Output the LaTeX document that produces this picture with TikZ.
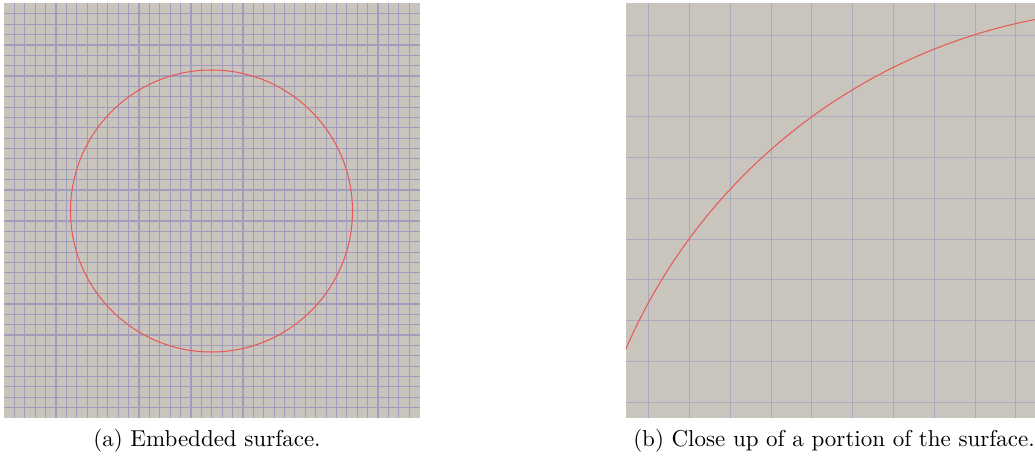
\documentclass[tikz,border=0pt]{standalone}
\definecolor{panelbg}{RGB}{201,197,188}
\definecolor{gridA}{RGB}{162,157,188}
\definecolor{gridB}{RGB}{172,168,192}
\definecolor{curvered}{RGB}{232,88,88}
\begin{document}
\begin{tikzpicture}[x=0.435pt,y=-0.435pt,
  panel/.style={fill=panelbg,draw=none},
  finegrid/.style={draw=gridA,line width=0.5pt},
  coarsegrid/.style={draw=gridB,line width=0.42pt},
  redcurve/.style={draw=curvered,line width=0.45pt},
  caption/.style={anchor=base,inner sep=0pt,font=\normalsize}]
\useasboundingbox (0,0) rectangle (1035,460);
\fill[white] (0,0) rectangle (1035,460);
% left panel
\fill[panel] (4,3.5) rectangle (419.5,417.7);
\foreach \k in {1,...,39} {
  \draw[finegrid] ({4+10.39*\k},3.5) -- ({4+10.39*\k},417.7);
  \draw[finegrid] (4,{3.5+10.36*\k}) -- (419.5,{3.5+10.36*\k});
}
\draw[redcurve] (211.5,211) circle (141);
% right panel
\fill[panel] (626,3.5) rectangle (1035,417.7);
\foreach \k in {0,...,9} {
  \draw[coarsegrid] ({648.7+40.8*\k},3.5) -- ({648.7+40.8*\k},417.7);
  \draw[coarsegrid] (626,{35+40.8*\k}) -- (1035,{35+40.8*\k});
}
\begin{scope}
  \clip (626,3.5) rectangle (1035,417.7);
  \draw[redcurve] (1142.9,572.2) circle (563);
\end{scope}
% captions
\node[caption] (capa) at (207,446.5) {(a) Embedded surface.};
\node[caption] (capb) at (834,446.5) {(b) Close up of a portion of the surface.};
\end{tikzpicture}
\end{document}
